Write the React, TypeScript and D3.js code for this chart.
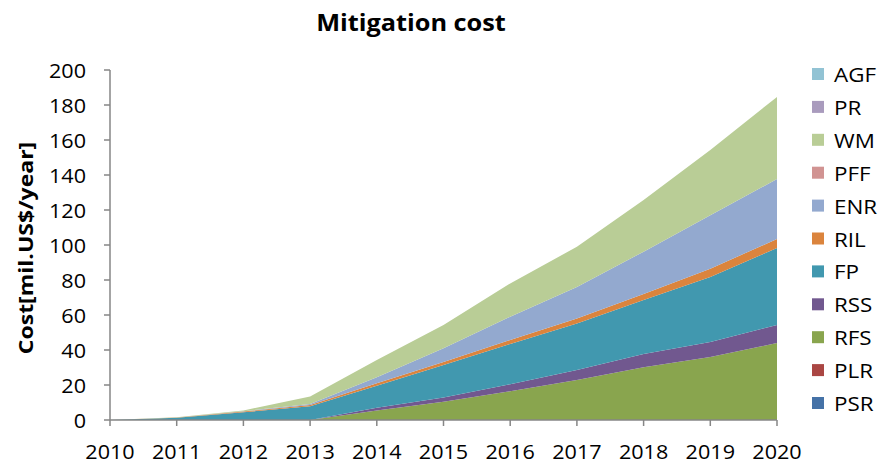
import React from "react";
import * as d3 from "d3";

const years = [2010, 2011, 2012, 2013, 2014, 2015, 2016, 2017, 2018, 2019, 2020];

// Series (mil. US$/year), listed bottom of the stack first
const PSR = [0, 0, 0, 0, 0, 0, 0, 0, 0, 0, 0];
const PLR = [0, 0, 0, 0, 0, 0, 0, 0, 0, 0, 0];
const RFS = [0, 0, 0, 0, 5.5, 10.5, 16.5, 22.9, 30.1, 36, 44];
const RSS = [0, 0, 0, 0, 1.5, 2.3, 4, 5.7, 7.6, 8.6, 10.3];
const FP = [0, 1.3, 4.4, 7.8, 12.6, 18.7, 23, 26.6, 30.9, 37.1, 44];
const RIL = [0, 0.1, 0.4, 0.8, 1.4, 1.7, 2.2, 2.8, 3.4, 4.8, 5.1];
const ENR = [0, 0.05, 0.2, 0.5, 3.5, 7.8, 13.3, 18, 24.2, 30.5, 34.3];
const PFF = [0, 0, 0, 0, 0, 0, 0, 0, 0, 0, 0];
const WM = [0, 0.1, 0.5, 4.4, 9.8, 13.3, 19, 23, 29.5, 37.3, 46.9];
const PR = [0, 0, 0, 0, 0, 0, 0, 0, 0, 0, 0];
const AGF = [0, 0, 0, 0, 0, 0, 0, 0, 0, 0, 0];

const seriesNames = ["PSR", "PLR", "RFS", "RSS", "FP", "RIL", "ENR", "PFF", "WM", "PR", "AGF"];
const seriesValues = [PSR, PLR, RFS, RSS, FP, RIL, ENR, PFF, WM, PR, AGF];
const seriesColors = [
  "#4572A7", "#AA4643", "#89A54E", "#71588F", "#4198AF", "#DB843D",
  "#93A9CF", "#D19392", "#B9CD96", "#A99BBD", "#92C3D4",
];
const yTicks = [0, 20, 40, 60, 80, 100, 120, 140, 160, 180, 200];

const W = 879;
const H = 466;
const left = 110;
const right = 777;
const top = 70;
const bottom = 420;
const FONT = "'Open Sans', 'Noto Sans', sans-serif";
const AXIS = "#868686";

export default function App() {
  const x = d3.scaleLinear().domain([2010, 2020]).range([left, right]);
  const y = d3.scaleLinear().domain([0, 200]).range([bottom, top]);

  const rows = years.map((yr, i) => {
    const r: Record<string, number> = { year: yr };
    seriesNames.forEach((n, k) => (r[n] = seriesValues[k][i]));
    return r;
  });
  const stacked = d3.stack<Record<string, number>>().keys(seriesNames)(rows);
  const area = d3
    .area<d3.SeriesPoint<Record<string, number>>>()
    .x((d) => x(d.data.year))
    .y0((d) => y(d[0]))
    .y1((d) => y(d[1]));

  const legendOrder = [...seriesNames].reverse();
  const legendTop = 74;
  const legendStep = 32.9;

  return (
    <svg
      width={W}
      height={H}
      style={{ position: "absolute", left: 0, top: 0, background: "#fff" }}
      fontFamily={FONT}
    >
      <rect width={W} height={H} fill="#fff" />
      <text
        x={0}
        y={0}
        textAnchor="middle"
        fontSize={23}
        fontWeight="bold"
        fill="#000"
        transform="translate(411,31) scale(1.1,1)"
      >
        Mitigation cost
      </text>

      {stacked.map((s, k) => (
        <path key={seriesNames[k]} d={area(s) ?? ""} fill={seriesColors[k]} />
      ))}

      {/* y axis */}
      <line x1={left} x2={left} y1={top} y2={bottom} stroke={AXIS} strokeWidth={1.5} />
      {yTicks.map((t) => (
        <g key={t}>
          <line x1={left - 6} x2={left} y1={y(t)} y2={y(t)} stroke={AXIS} strokeWidth={1.5} />
          <text
            x={0}
            y={0}
            textAnchor="end"
            fontSize={20}
            fill="#000"
            dominantBaseline="central"
            transform={`translate(${left - 24},${y(t)}) scale(1.08,1)`}
          >
            {t}
          </text>
        </g>
      ))}

      {/* x axis */}
      <line x1={left} x2={right} y1={bottom} y2={bottom} stroke={AXIS} strokeWidth={1.5} />
      {years.map((yr) => (
        <g key={yr}>
          <line x1={x(yr)} x2={x(yr)} y1={bottom} y2={bottom + 6} stroke={AXIS} strokeWidth={1.5} />
          <text
            x={0}
            y={0}
            textAnchor="middle"
            fontSize={20}
            fill="#000"
            transform={`translate(${x(yr)},${bottom + 39}) scale(1.08,1)`}
          >
            {yr}
          </text>
        </g>
      ))}

      <text
        transform={`translate(33,${(top + bottom) / 2 + 3}) rotate(-90) scale(1.15,1)`}
        textAnchor="middle"
        fontSize={20}
        fontWeight="bold"
        fill="#000"
      >
        Cost[mil.US$/year]
      </text>

      {/* legend */}
      {legendOrder.map((n, i) => {
        const k = seriesNames.indexOf(n);
        const cy = legendTop + i * legendStep;
        return (
          <g key={n}>
            <rect x={812} y={cy - 6} width={12} height={12} fill={seriesColors[k]} />
            <text
              x={0}
              y={0}
              fontSize={20}
              fill="#000"
              dominantBaseline="central"
              transform={`translate(834,${cy}) scale(1.12,1)`}
            >
              {n}
            </text>
          </g>
        );
      })}
    </svg>
  );
}
